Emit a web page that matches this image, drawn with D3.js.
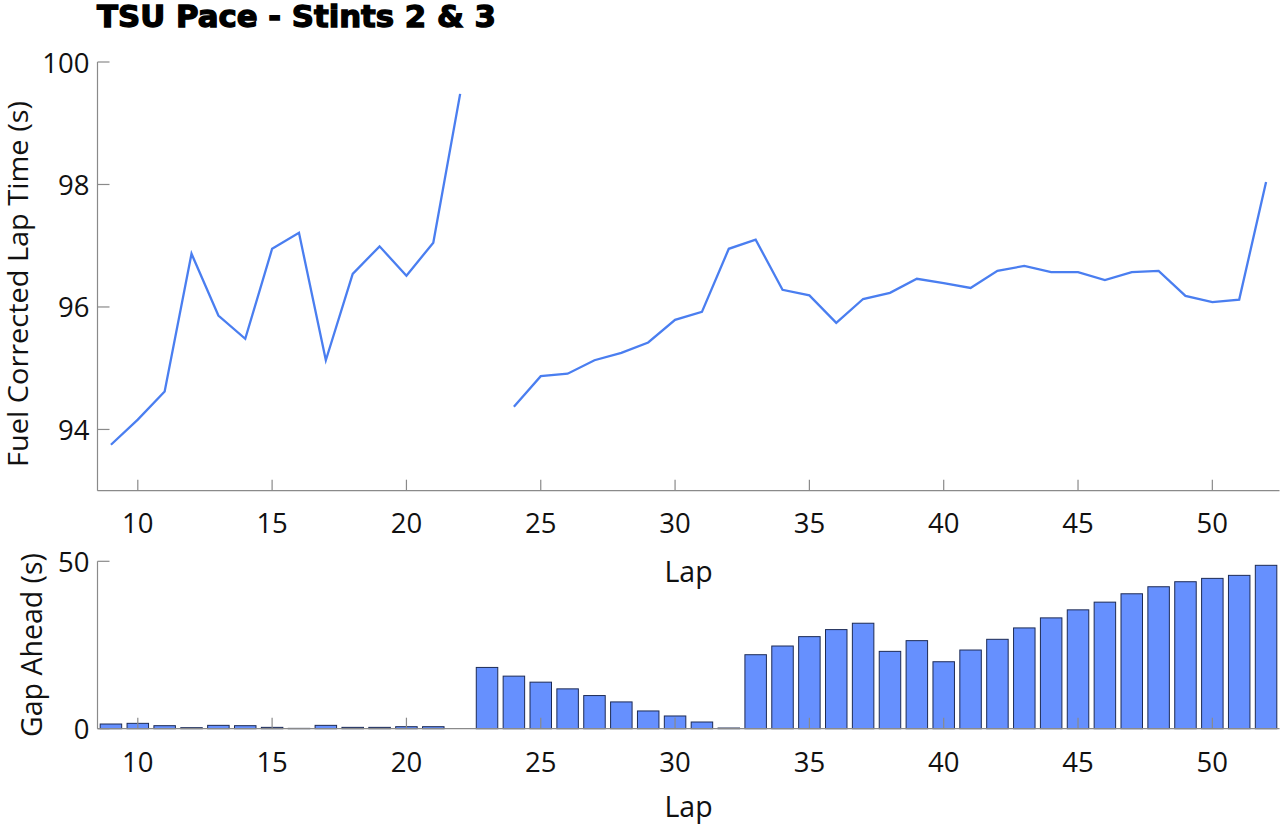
<!DOCTYPE html>
<html>
<head>
<meta charset="utf-8">
<script src="https://cdn.jsdelivr.net/npm/d3@7"></script>
<style>
  html, body { margin: 0; padding: 0; background: #fff; }
  svg { display: block; }
  text { font-family: "Open Sans", "Noto Sans", sans-serif; fill: #111; }
</style>
</head>
<body>
<script>
// ---- Data ----
const laps = [9,10,11,12,13,14,15,16,17,18,19,20,21,22,23,24,25,26,27,28,29,30,31,32,33,34,35,36,37,38,39,40,41,42,43,44,45,46,47,48,49,50,51,52];
const lapTimes = [93.75,94.16,94.62,96.87,95.86,95.48,96.95,97.21,95.13,96.54,96.99,96.51,97.05,99.48,null,
  94.37,94.87,94.91,95.13,95.25,95.42,95.79,95.92,96.95,97.10,96.28,96.19,95.74,96.13,96.23,96.46,96.39,96.31,
  96.59,96.67,96.57,96.57,96.44,96.57,96.59,96.18,96.08,96.12,98.04];
const gapAhead = [1.4,1.6,0.9,0.3,1.0,0.9,0.4,0.1,1.0,0.4,0.4,0.6,0.6,null,18.3,
  15.7,13.9,11.9,9.9,8.0,5.3,3.8,2.0,0.2,22.1,24.7,27.5,29.6,31.5,23.1,26.3,20.0,23.5,
  26.7,30.1,33.1,35.5,37.8,40.3,42.4,43.9,44.9,45.8,48.8];
const xTicks = [10,15,20,25,30,35,40,45,50];
const yTicksTop = [94,96,98,100];
const yTicksBottom = [0,50];
const title = "TSU Pace - Stints 2 & 3";

// ---- Layout ----
const W = 1280, H = 827;
const svg = d3.select("body").append("svg").attr("width", W).attr("height", H);
const axisColor = "#8a8a8a";
const lineColor = "#4a7ef0";
const tickFont = "27.5px";
const labelFont = "28.5px";

const x = d3.scaleLinear().domain([8.5, 52.5]).range([97.5, 1279.5]);
const yTop = d3.scaleLinear().domain([93, 100]).range([490.7, 62]);
const yBot = d3.scaleLinear().domain([0, 50]).range([728.7, 561.3]);

// Title
svg.append("text")
  .attr("x", 97).attr("y", 27)
  .attr("textLength", 399).attr("lengthAdjust", "spacingAndGlyphs")
  .style("font-family", "'DejaVu Sans', sans-serif")
  .style("font-weight", "bold").style("font-size", "30px")
  .style("stroke", "#000").style("stroke-width", "1.3px")
  .style("fill", "#000")
  .text(title);

function drawAxes(yScale, yTicks, xLabelY, tickLabelY) {
  const [y0, y1] = yScale.range(); // bottom, top
  const g = svg.append("g");
  g.append("line").attr("x1", x.range()[0]).attr("x2", x.range()[0])
    .attr("y1", y1).attr("y2", y0).attr("stroke", axisColor).attr("stroke-width", 1.2);
  g.append("line").attr("x1", x.range()[0]).attr("x2", x.range()[1])
    .attr("y1", y0).attr("y2", y0).attr("stroke", axisColor).attr("stroke-width", 1.2);
  yTicks.forEach(t => {
    g.append("line").attr("x1", x.range()[0]).attr("x2", x.range()[0] + 12)
      .attr("y1", yScale(t)).attr("y2", yScale(t)).attr("stroke", axisColor).attr("stroke-width", 1.2);
    g.append("text").attr("x", x.range()[0] - 8).attr("y", yScale(t))
      .attr("text-anchor", "end").attr("dominant-baseline", "central")
      .style("font-size", tickFont).text(t);
  });
  xTicks.forEach(t => {
    g.append("line").attr("x1", x(t)).attr("x2", x(t))
      .attr("y1", y0).attr("y2", y0 - 11).attr("stroke", axisColor).attr("stroke-width", 1.2);
    g.append("text").attr("x", x(t)).attr("y", tickLabelY)
      .attr("text-anchor", "middle").attr("dominant-baseline", "central")
      .style("font-size", tickFont).text(t);
  });
  g.append("text").attr("x", (x.range()[0] + x.range()[1]) / 2).attr("y", xLabelY)
    .attr("text-anchor", "middle").style("font-size", labelFont).text("Lap");
  return g;
}

// Top panel
drawAxes(yTop, yTicksTop, 582, 522);
svg.append("text")
  .attr("transform", `translate(28,284) rotate(-90)`)
  .attr("text-anchor", "middle").style("font-size", "26.5px")
  .attr("textLength", 366).attr("lengthAdjust", "spacingAndGlyphs")
  .text("Fuel Corrected Lap Time (s)");

const line = d3.line()
  .defined(d => d.v !== null)
  .x(d => x(d.lap)).y(d => yTop(d.v));
svg.append("path")
  .datum(laps.map((l, i) => ({lap: l, v: lapTimes[i]})))
  .attr("d", line).attr("fill", "none")
  .attr("stroke", lineColor).attr("stroke-width", 2.3).attr("stroke-linejoin", "miter");

// Bottom panel
const bw = (x(1) - x(0)) * 0.8;
svg.append("g").selectAll("rect")
  .data(laps.map((l, i) => ({lap: l, v: gapAhead[i]})).filter(d => d.v !== null))
  .join("rect")
  .attr("x", d => x(d.lap) - bw / 2)
  .attr("width", bw)
  .attr("y", d => yBot(d.v))
  .attr("height", d => yBot(0) - yBot(d.v))
  .attr("fill", "#6690fe").attr("stroke", "#1d2b55").attr("stroke-width", 1);

drawAxes(yBot, yTicksBottom, 817, 761);
svg.append("text")
  .attr("transform", `translate(42,645) rotate(-90)`)
  .attr("text-anchor", "middle").style("font-size", labelFont)
  .text("Gap Ahead (s)");
</script>
</body>
</html>
